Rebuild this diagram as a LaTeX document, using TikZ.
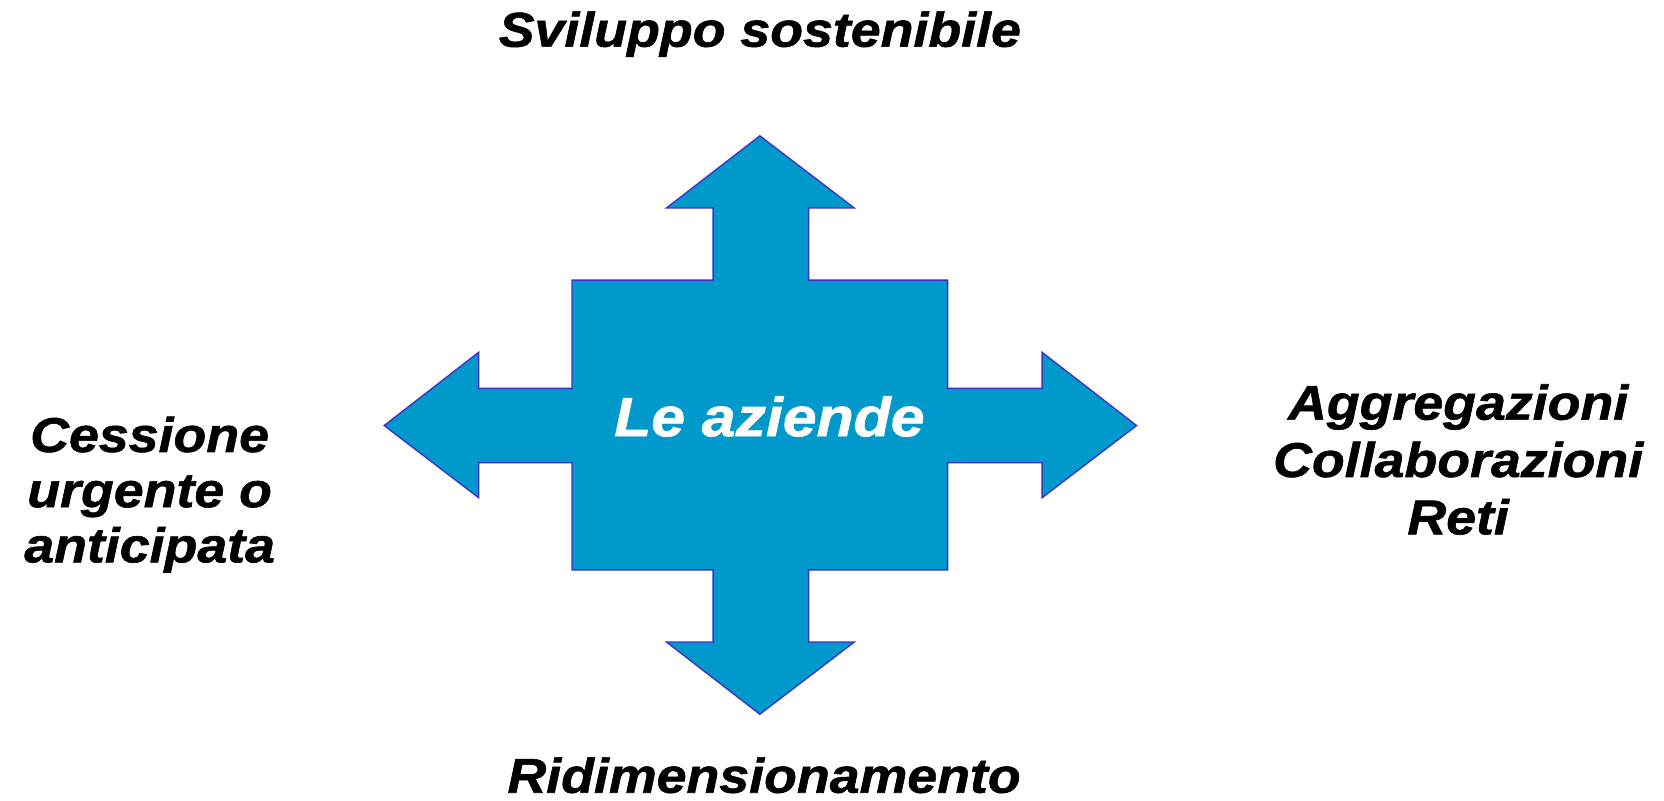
\documentclass[tikz,border=0pt]{standalone}
\usepackage{fontspec}
\setmainfont{Liberation Sans}[FakeStretch=1.1]
\newfontfamily\heavyfont{Liberation Sans}[FakeStretch=1.1, FakeBold=1.2]
\definecolor{arrowfill}{RGB}{0,153,204}
\definecolor{arrowline}{RGB}{60,50,200}
\tikzset{
  lbl/.style={font=\heavyfont\bfseries\itshape\fontsize{46}{52}\selectfont, inner sep=0pt, text=black},
  ctr/.style={font=\heavyfont\bfseries\itshape\fontsize{52}{58}\selectfont, inner sep=0pt, text=white},
  cross/.style={fill=arrowfill, draw=arrowline, line width=1.3pt, line join=miter}
}
\begin{document}
\begin{tikzpicture}[x=1pt,y=-1pt]
\useasboundingbox (0,0) rectangle (1568,754);
\draw[cross] (716,128) -- (805,196) -- (762,196) -- (762,264) -- (893,264) -- (893,366)
  -- (982,366) -- (982,332) -- (1071,401) -- (982,469) -- (982,436) -- (893,436)
  -- (893,537) -- (762,537) -- (762,605) -- (805,605) -- (716,673) -- (628,605)
  -- (672,605) -- (672,537) -- (539,537) -- (539,436) -- (451,436) -- (451,469)
  -- (362,401) -- (451,332) -- (451,366) -- (539,366) -- (539,264) -- (672,264)
  -- (672,196) -- (628,196) -- cycle;
\node[ctr, anchor=base] (center) at (725,411) {Le aziende};
\node[lbl, anchor=base] (top) at (716,44) {Sviluppo sostenibile};
\node[lbl, anchor=base] (bottom) at (720,747) {Ridimensionamento};
\node[lbl, align=center, anchor=center] (left) at (141,466) {Cessione\\urgente o\\anticipata};
\node[lbl, font=\heavyfont\bfseries\itshape\fontsize{46}{54}\selectfont, align=center, anchor=center] (right) at (1374,433) {Aggregazioni\\Collaborazioni\\Reti};
\end{tikzpicture}
\end{document}
